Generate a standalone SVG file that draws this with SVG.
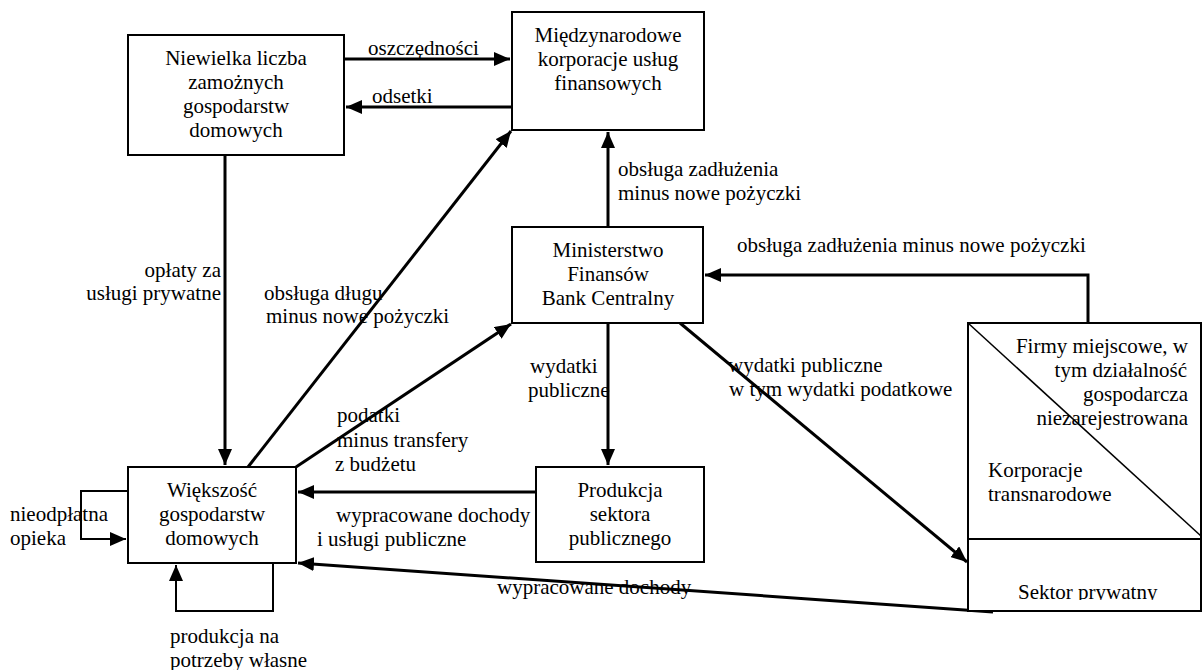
<svg xmlns="http://www.w3.org/2000/svg" width="1202" height="670" viewBox="0 0 1202 670">
<style>
text{font-family:"Liberation Serif","Times New Roman",serif;font-size:21px;fill:#000}
.box{fill:#fff;stroke:#000;stroke-width:2}
.c{text-anchor:middle}
.r{text-anchor:end}
.con{fill:none;stroke:#000;stroke-width:3}
.thin{fill:none;stroke:#000;stroke-width:2}
</style>
<defs>
<marker id="ah" markerUnits="userSpaceOnUse" markerWidth="17" markerHeight="14" refX="16" refY="7" orient="auto">
<path d="M0,0 L16,7 L0,14 z" fill="#000"/>
</marker>
<clipPath id="clipS"><rect x="968" y="560" width="234" height="40"/></clipPath>
</defs>
<rect width="1202" height="670" fill="#fff"/>

<g id="connectors">
<path class="con" d="M344,59 H510" marker-end="url(#ah)"/>
<path class="con" d="M512,107 H346" marker-end="url(#ah)"/>
<path class="con" d="M225,155 V465" marker-end="url(#ah)"/>
<path class="con" d="M248,467 L511,131" marker-end="url(#ah)"/>
<path class="con" d="M296,467 L511,324" marker-end="url(#ah)"/>
<path class="con" d="M608,227 V132" marker-end="url(#ah)"/>
<path class="con" d="M1088,323 V275 H705" marker-end="url(#ah)"/>
<path class="con" d="M608,323 V465" marker-end="url(#ah)"/>
<path class="con" d="M680,323 L967,562" marker-end="url(#ah)"/>
<path class="con" d="M536,492 H298" marker-end="url(#ah)"/>
<path class="con" d="M993,612 L298,563" marker-end="url(#ah)"/>
<path class="thin" d="M128,491 H81 V539 H126" marker-end="url(#ah)"/>
<path class="thin" d="M273,563 V611 H176 V565" marker-end="url(#ah)"/>
</g>

<g id="labels">
<text x="368" y="55">oszczędności</text>
<text x="372" y="103">odsetki</text>
<text class="r" x="221" y="277">opłaty za</text>
<text class="r" x="221" y="300">usługi prywatne</text>
<text x="264" y="300">obsługa długu</text>
<text x="266" y="323">minus nowe pożyczki</text>
<text x="618" y="176">obsługa zadłużenia</text>
<text x="618" y="200">minus nowe pożyczki</text>
<text x="737" y="252">obsługa zadłużenia minus nowe pożyczki</text>
<text x="530" y="373">wydatki</text>
<text x="528" y="397">publiczne</text>
<text x="728" y="372">wydatki publiczne</text>
<text x="729" y="396">w tym wydatki podatkowe</text>
<text x="337" y="422">podatki</text>
<text x="337" y="447">minus transfery</text>
<text x="335" y="471">z budżetu</text>
<text x="336" y="522">wypracowane dochody</text>
<text x="317" y="546">i usługi publiczne</text>
<text x="497" y="594">wypracowane dochody</text>
<text x="10" y="521">nieodpłatna</text>
<text x="10" y="545">opieka</text>
<text x="170" y="643">produkcja na</text>
<text x="170" y="667">potrzeby własne</text>
</g>

<g id="node-niewielka">
<rect class="box" x="128" y="35" width="216" height="120"/>
<text class="c" x="236" y="65">Niewielka liczba</text>
<text class="c" x="236" y="89">zamożnych</text>
<text class="c" x="236" y="113">gospodarstw</text>
<text class="c" x="236" y="137">domowych</text>
</g>

<g id="node-miedzynarodowe">
<rect class="box" x="512" y="12" width="192" height="118"/>
<text class="c" x="608" y="42">Międzynarodowe</text>
<text class="c" x="608" y="66">korporacje usług</text>
<text class="c" x="608" y="90">finansowych</text>
</g>

<g id="node-ministerstwo">
<rect class="box" x="512" y="227" width="191" height="96"/>
<text class="c" x="608" y="257">Ministerstwo</text>
<text class="c" x="608" y="281">Finansów</text>
<text class="c" x="608" y="305">Bank Centralny</text>
</g>

<g id="node-wiekszosc">
<rect class="box" x="128" y="467" width="168" height="96"/>
<text class="c" x="212" y="497">Większość</text>
<text class="c" x="212" y="521">gospodarstw</text>
<text class="c" x="212" y="545">domowych</text>
</g>

<g id="node-produkcja">
<rect class="box" x="536" y="467" width="168" height="95"/>
<text class="c" x="620" y="497">Produkcja</text>
<text class="c" x="620" y="521">sektora</text>
<text class="c" x="620" y="545">publicznego</text>
</g>

<g id="node-sektor">
<rect class="box" x="968" y="323" width="233" height="288"/>
<line x1="968" y1="539" x2="1201" y2="539" stroke="#000" stroke-width="2"/>
<line x1="968" y1="323" x2="1201" y2="536" stroke="#000" stroke-width="1.5"/>
<text class="r" x="1188" y="353">Firmy miejscowe, w</text>
<text class="r" x="1187" y="377">tym działalność</text>
<text class="r" x="1188" y="401">gospodarcza</text>
<text class="r" x="1188" y="425">niezarejestrowana</text>
<text x="988" y="477">Korporacje</text>
<text x="988" y="501">transnarodowe</text>
<text x="1018" y="599" clip-path="url(#clipS)">Sektor prywatny</text>
</g>
</svg>
